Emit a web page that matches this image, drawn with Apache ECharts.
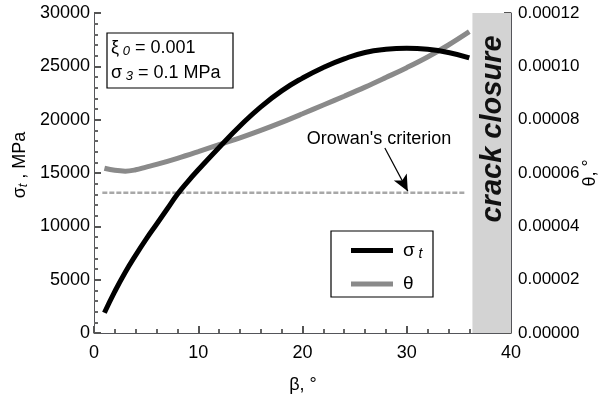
<!DOCTYPE html>
<html>
<head>
<meta charset="utf-8">
<script src="https://cdn.jsdelivr.net/npm/echarts@6/dist/echarts.min.js"></script>
<style>html,body{margin:0;padding:0;background:#fff}#c{width:603px;height:403px}</style>
</head>
<body>
<div id="c"></div>
<script>
// beta (deg) for sigma_t curve
var betaSigma = [1,2,3,4,5,6,7,8,9,10,12,14,16,18,20,22,24,26,28,30,32,34,36];
var sigmaT = [1900,3900,5700,7300,8800,10200,11600,13000,14200,15300,17400,19400,21200,22700,23900,24900,25700,26300,26600,26700,26600,26300,25800];
// beta for theta curve
var betaTheta = [1,2,3,4,5,6,8,10,12,14,16,18,20,22,24,26,28,30,32,34,36];
var thetaVals = [6.18e-5,6.10e-5,6.07e-5,6.12e-5,6.22e-5,6.32e-5,6.55e-5,6.80e-5,7.06e-5,7.32e-5,7.60e-5,7.90e-5,8.22e-5,8.55e-5,8.88e-5,9.22e-5,9.58e-5,9.95e-5,10.35e-5,10.80e-5,11.30e-5];
// Orowan's criterion (theta)
var orowanBeta = [0.8, 35.6];
var orowanTheta = [5.26e-5, 5.26e-5];
// crack closure region
var crackClosure = [36.3, 40];
var xTicks = {min:0, max:40, interval:10};
var yLeft = {min:0, max:30000, interval:5000};
var yRight = {min:0, max:0.00012, interval:0.00002};

function zip(a,b){return a.map(function(v,i){return [v,b[i]];});}

var chart = echarts.init(document.getElementById('c'));
var FONT = 'Liberation Sans, Arial, sans-serif';
function tk(len){return {show:true, inside:true, length:len, lineStyle:{color:'#555', width:2}};}
function mtk(n,len){return {show:true, splitNumber:n, length:len, lineStyle:{color:'#666', width:2}};}
chart.setOption({
  animation:false,
  textStyle:{fontFamily:FONT},
  grid:{left:94, right:92, top:13, bottom:70},
  xAxis:{
    type:'value', min:xTicks.min, max:xTicks.max, interval:xTicks.interval,
    axisLine:{show:true, onZero:false},
    axisTick:tk(7),
    minorTick:mtk(5,4),
    splitLine:{show:false},
    axisLabel:{color:'#000', fontSize:18, fontFamily:FONT, margin:11}
  },
  yAxis:[{
    type:'value', min:yLeft.min, max:yLeft.max, interval:yLeft.interval, position:'left',
    axisLine:{show:true},
    axisTick:tk(7),
    minorTick:mtk(5,4),
    splitLine:{show:false},
    axisLabel:{color:'#000', fontSize:18, fontFamily:FONT, margin:4,
      formatter:function(v){return String(v);}}
  },{
    type:'value', min:yRight.min, max:yRight.max, interval:yRight.interval, position:'right',
    axisLine:{show:true},
    axisTick:tk(7),
    minorTick:mtk(4,4),
    splitLine:{show:false},
    axisLabel:{color:'#000', fontSize:17, fontFamily:FONT, margin:7,
      formatter:function(v){return v.toFixed(5);}}
  }],
  legend:{
    orient:'vertical', left:346, top:236, itemGap:13,
    itemWidth:42, itemHeight:5,
    data:[{name:'σt', icon:'rect', itemStyle:{color:'#000'}},
          {name:'θ', icon:'rect', itemStyle:{color:'#8a8a8a'}}],
    formatter:function(n){return n==='σt' ? '{s|σ}{sub| t}' : '{s|θ}';},
    textStyle:{padding:[0,0,0,5], rich:{
      s:{fontSize:19, fontFamily:FONT, color:'#000'},
      sub:{fontSize:14, fontStyle:'italic', fontFamily:FONT, color:'#000', verticalAlign:'bottom', padding:[8,0,0,0]}
    }}
  },
  series:[
    {
      name:'crack', type:'line', data:[], silent:true,
      markArea:{silent:true, itemStyle:{color:'#d3d3d3'},
        data:[[{xAxis:crackClosure[0]},{xAxis:crackClosure[1]}]]}
    },
    {
      name:'orowan', type:'line', yAxisIndex:1, data:zip(orowanBeta, orowanTheta),
      showSymbol:false, silent:true,
      lineStyle:{color:'#a8a8a8', width:2.5, type:[5,2]},
      markLine:{silent:true, symbol:['none','arrow'], symbolSize:[11,16],
        lineStyle:{color:'#000', width:1.2, type:'solid'}, label:{show:false},
        data:[[{coord:[27.9, 6.94e-5]},{coord:[30.1, 5.32e-5]}]]}
    },
    {
      name:'θ', type:'line', yAxisIndex:1, data:zip(betaTheta, thetaVals),
      showSymbol:false, smooth:0.4,
      lineStyle:{color:'#8a8a8a', width:5},
      itemStyle:{color:'#8a8a8a'}
    },
    {
      name:'σt', type:'line', yAxisIndex:0, data:zip(betaSigma, sigmaT),
      showSymbol:false, smooth:true,
      lineStyle:{color:'#000', width:5},
      itemStyle:{color:'#000'}
    }
  ],
  graphic:[
    {type:'rect', shape:{x:331, y:231, width:102, height:66}, style:{fill:null, stroke:'#000', lineWidth:1.2}, z:1},
    {type:'rect', shape:{x:107, y:33, width:126, height:55}, style:{fill:'#fff', stroke:'#000', lineWidth:1.2}, z:10},
    {type:'text', x:111, y:48, z:11, style:{
      text:'{a|ξ}{sub| 0}{a| = 0.001}', verticalAlign:'middle', textVerticalAlign:'middle',
      rich:{a:{fontSize:18, fontFamily:FONT, fill:'#000', color:'#000'},
            sub:{fontSize:13, fontStyle:'italic', fontFamily:FONT, fill:'#000', color:'#000', padding:[7,0,0,0]}}
    }},
    {type:'text', x:111, y:73, z:11, style:{
      text:'{a|σ}{sub| 3}{a| = 0.1 MPa}', verticalAlign:'middle', textVerticalAlign:'middle',
      rich:{a:{fontSize:18, fontFamily:FONT, fill:'#000', color:'#000'},
            sub:{fontSize:13, fontStyle:'italic', fontFamily:FONT, fill:'#000', color:'#000', padding:[7,0,0,0]}}
    }},
    {type:'text', x:379, y:139, z:11, style:{
      text:"Orowan's criterion", font:'18px '+FONT, fill:'#000',
      align:'center', verticalAlign:'middle', textAlign:'center', textVerticalAlign:'middle'
    }},
    {type:'text', x:493, y:129, rotation:Math.PI/2, z:11, style:{
      text:'crack closure', font:'italic bold 29px '+FONT, fill:'#111',
      align:'center', verticalAlign:'middle', textAlign:'center', textVerticalAlign:'middle'
    }},
    {type:'text', x:20, y:165, rotation:Math.PI/2, z:11, style:{
      text:'{a|σ}{sub|t}{a| , MPa}', align:'center', verticalAlign:'middle', textAlign:'center', textVerticalAlign:'middle',
      rich:{a:{fontSize:18, fontFamily:FONT, fill:'#000', color:'#000'},
            sub:{fontSize:13, fontStyle:'italic', fontFamily:FONT, fill:'#000', color:'#000', padding:[7,0,0,0]}}
    }},
    {type:'text', x:590, y:173, rotation:Math.PI/2, z:11, style:{
      text:'θ, °', font:'18px '+FONT, fill:'#000',
      align:'center', verticalAlign:'middle', textAlign:'center', textVerticalAlign:'middle'
    }},
    {type:'text', x:303, y:385, z:11, style:{
      text:'β, °', font:'18px '+FONT, fill:'#000',
      align:'center', verticalAlign:'middle', textAlign:'center', textVerticalAlign:'middle'
    }}
  ]
});
</script>
</body>
</html>
